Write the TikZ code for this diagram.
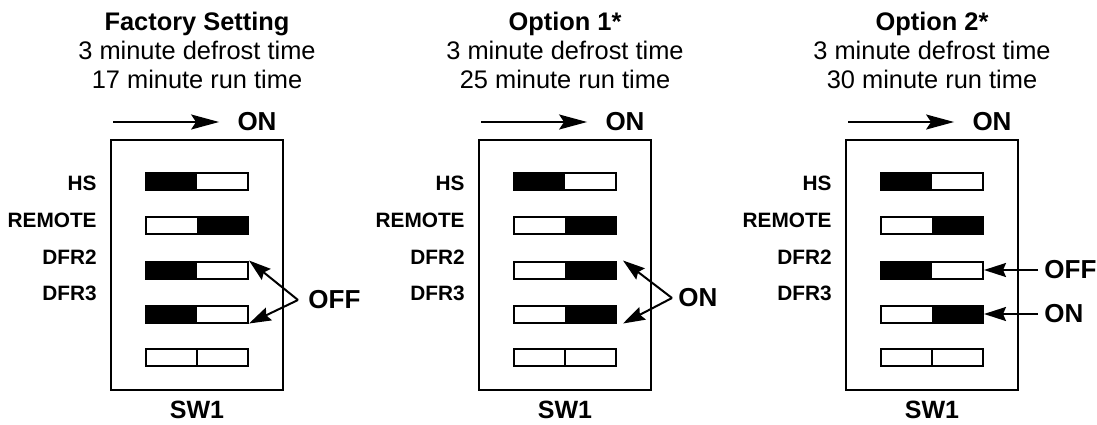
\documentclass[tikz,border=0pt]{standalone}
\usepackage{fontspec}
\setmainfont{Liberation Sans}
\usetikzlibrary{arrows.meta, positioning}

\tikzset{
  swbox/.style={draw, line width=1pt, minimum width=51pt, minimum height=8.5pt, inner sep=0pt},
  swoff/.style={swbox, path picture={\fill (path picture bounding box.south west) rectangle (path picture bounding box.north);}},
  swon/.style={swbox, path picture={\fill (path picture bounding box.south) rectangle (path picture bounding box.north east);}},
  swnone/.style={swbox, path picture={\draw[line width=1pt] (path picture bounding box.south) -- (path picture bounding box.north);}}
}

\begin{document}
\begin{tikzpicture}[
    x=0.5pt, y=-0.5pt,
    title/.style={align=center, inner sep=0pt, font=\fontsize{12.7}{14.5}\selectfont},
    lbl/.style={anchor=east, inner sep=0pt, font=\fontsize{10.4}{12}\selectfont\bfseries},
    big/.style={inner sep=0pt, font=\fontsize{13}{15}\selectfont\bfseries},
    frame/.style={draw, line width=1pt, minimum width=86pt, minimum height=125pt, inner sep=0pt},
    topar/.style={line width=1pt, -{Stealth[length=14pt, width=7.5pt, inset=2.5pt]}},
    callout/.style={line width=1pt, -{Stealth[length=11pt, width=7pt, inset=1.5pt]}}
]
\useasboundingbox (0,0) rectangle (1097,424);

\foreach \p/\dx/\head/\run/\sa/\sb/\sc/\sd in {1/0/Factory Setting/17/swoff/swon/swoff/swoff, 2/368/Option 1*/25/swoff/swon/swon/swon, 3/735/Option 2*/30/swoff/swon/swoff/swon}{
  \begin{scope}[shift={(\dx,0)}]
    \node[title, anchor=north] (head\p) at (197,12) {\textbf{\head}\\3 minute defrost time\\\run{} minute run time};
    \coordinate (tail\p) at (113,122);
    \node[big] (on\p) at (257,122) {ON};
    \draw[topar, shorten >=9pt] (tail\p) -- (on\p.west);
    \node[frame] (sw\p) at (197,265) {};
    \node[\sa] (hs\p) at (197,181) {};
    \node[\sb] (rem\p) at (197,225) {};
    \node[\sc] (dfra\p) at (197,270) {};
    \node[\sd] (dfrb\p) at (197,314) {};
    \node[swnone] (spare\p) at (197,357) {};
    \node[lbl] (hsl\p) at (97,183) {HS};
    \node[lbl] (reml\p) at (97,220) {REMOTE};
    \node[lbl] (dfral\p) at (97,257) {DFR2};
    \node[lbl] (dfrbl\p) at (97,293) {DFR3};
    \node[big, font=\fontsize{12.5}{14}\selectfont\bfseries] (name\p) at (197,410) {SW1};
  \end{scope}
}

\node[big, anchor=west, inner xsep=5pt] (offa) at (298,300) {OFF};
\draw[callout] (offa.west) -- (dfra1.north east);
\draw[callout] (offa.west) -- (dfrb1.south east);

\node[big, anchor=west, inner xsep=3pt] (onb) at (672,298) {ON};
\draw[callout] (onb.west) -- ([xshift=3pt]dfra2.north east);
\draw[callout] (onb.west) -- ([xshift=3pt]dfrb2.south east);

\node[big, right=27pt of dfra3, inner xsep=3pt] (offc) {OFF};
\node[big, right=27pt of dfrb3, inner xsep=3pt] (onc) {ON};
\draw[callout] (offc) -- (dfra3);
\draw[callout] (onc) -- (dfrb3);
\end{tikzpicture}
\end{document}
